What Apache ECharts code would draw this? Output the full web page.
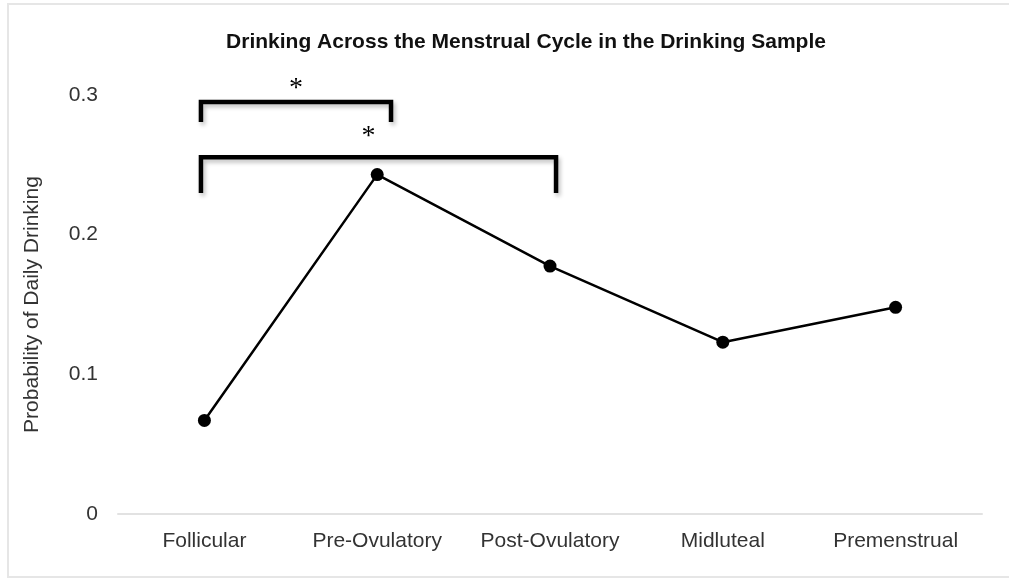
<!DOCTYPE html>
<html>
<head>
<meta charset="utf-8">
<script src="https://cdn.jsdelivr.net/npm/echarts@6/dist/echarts.min.js"></script>
<style>html,body{margin:0;padding:0;background:#fff}#c{width:1009px;height:579px}</style>
</head>
<body>
<div id="c"></div>
<script>
const categories = ['Follicular', 'Pre-Ovulatory', 'Post-Ovulatory', 'Midluteal', 'Premenstrual'];
const probability = [0.067, 0.243, 0.1775, 0.123, 0.148];
const yTicks = [0, 0.1, 0.2, 0.3];
// significance brackets (category positions, value levels)
const bracketStart = [-0.02, -0.02];
const bracketEnd = [1.08, 2.035];
const bracketTop = [0.295, 0.2555];
const bracketBottom = [0.2806, 0.2298];
const starPos = [0.53, 0.95];
const starValue = [0.309, 0.2745];
const starText = ['*', '*'];

const bracketData = bracketStart.map((s, i) => [s, bracketEnd[i], bracketTop[i], bracketBottom[i], starPos[i], starValue[i]]);

const chart = echarts.init(document.getElementById('c'), null, {renderer: 'canvas'});
chart.setOption({
  animation: false,
  backgroundColor: '#fff',
  title: {
    text: 'Drinking Across the Menstrual Cycle in the Drinking Sample',
    left: 521, top: 27, textAlign: 'center',
    textStyle: {fontFamily: 'Liberation Sans', fontSize: 21, fontWeight: 'bold', color: '#111'}
  },
  graphic: [{
    type: 'rect', silent: true,
    shape: {x: 8, y: 4, width: 1010, height: 573},
    style: {fill: 'none', stroke: '#e6e6e6', lineWidth: 2}
  }],
  grid: {left: 118, right: 27, top: 95, bottom: 65},
  xAxis: {
    type: 'category', data: categories, boundaryGap: true,
    axisLine: {lineStyle: {color: '#e2e2e2', width: 2}},
    axisTick: {show: false},
    axisLabel: {interval: 0, hideOverlap: false, fontFamily: 'Liberation Sans', fontSize: 21, color: '#333', margin: 17}
  },
  yAxis: {
    type: 'value', min: 0, max: 0.3, interval: 0.1,
    name: 'Probability of Daily Drinking', nameLocation: 'middle', nameGap: 75,
    nameTextStyle: {fontFamily: 'Liberation Sans', fontSize: 21, color: '#333'},
    axisLine: {show: false}, axisTick: {show: false}, splitLine: {show: false},
    axisLabel: {fontFamily: 'Liberation Sans', fontSize: 21, color: '#333', margin: 20,
      formatter: v => yTicks.includes(Math.round(v * 10) / 10) ? String(Math.round(v * 10) / 10) : ''}
  },
  series: [{
    type: 'line', data: probability,
    lineStyle: {color: '#000', width: 2.5},
    itemStyle: {color: '#000'},
    symbol: 'circle', symbolSize: 13, z: 3
  }, {
    type: 'custom', data: bracketData, z: 4,
    renderItem: function (params, api) {
      const x0 = api.coord([0, 0])[0];
      const x1 = api.coord([1, 0])[0];
      const px = p => x0 + p * (x1 - x0);
      const xs = px(api.value(0)), xe = px(api.value(1));
      const yt = api.coord([0, api.value(2)])[1];
      const yb = api.coord([0, api.value(3)])[1];
      const sx = px(api.value(4));
      const sy = api.coord([0, api.value(5)])[1];
      return {
        type: 'group',
        children: [{
          type: 'polyline',
          shape: {points: [[xs, yb], [xs, yt], [xe, yt], [xe, yb]]},
          style: {stroke: '#000', lineWidth: 4.5, fill: 'none',
            shadowBlur: 4, shadowOffsetX: 2, shadowOffsetY: 3, shadowColor: 'rgba(0,0,0,0.25)'}
        }, {
          type: 'text',
          style: {text: starText[params.dataIndex], x: sx, y: sy + 6, align: 'center', verticalAlign: 'middle',
            fontFamily: 'Liberation Serif', fontSize: 28, fill: '#000'}
        }]
      };
    }
  }]
});
</script>
</body>
</html>
